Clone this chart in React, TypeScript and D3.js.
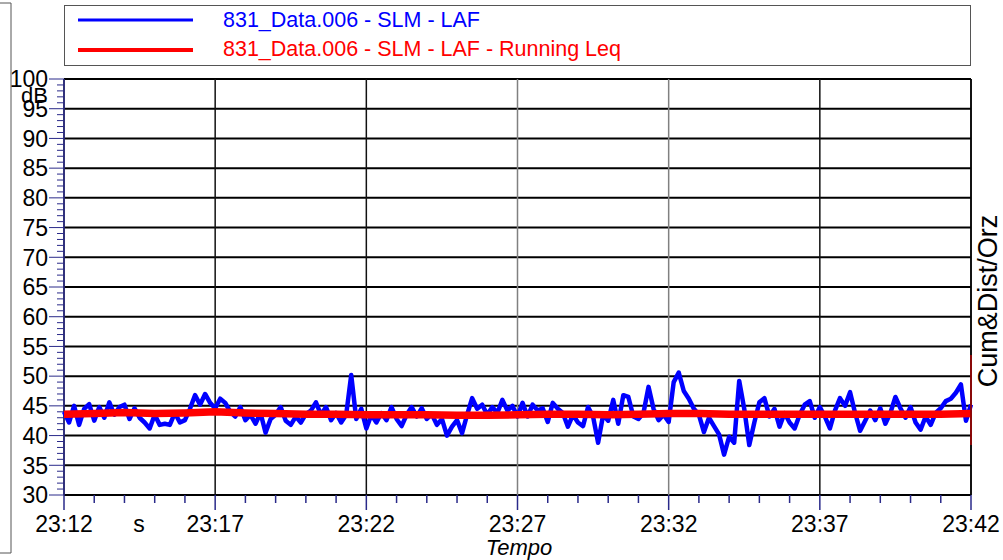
import React from 'react';
import * as d3 from 'd3';

// time axis: 23:12 .. 23:42, 30 minutes
const timeLabels = ['23:12', '23:17', '23:22', '23:27', '23:32', '23:37', '23:42'];
const yTickValues = [30, 35, 40, 45, 50, 55, 60, 65, 70, 75, 80, 85, 90, 95, 100];
const seriesNames = ['831_Data.006 - SLM - LAF', '831_Data.006 - SLM - LAF - Running Leq'];

// LAF, one value every 10 s
const lafStepSec = 10;
const lafValues = [
  44, 42.2, 45, 41.8, 44.5, 45.3, 42.5, 44.8, 43, 45.6,
  43.5, 44.8, 45.2, 42.8, 44.6, 43, 42.2, 41.2, 43.5, 41.8,
  42, 41.8, 43.8, 42.2, 42.6, 44.5, 46.8, 45.2, 47, 45.5,
  44.6, 46.2, 45.5, 44.0, 43.2, 44.8, 42.6, 43.5, 42, 43.8,
  40.5, 42.8, 43.5, 44.8, 42.5, 41.8, 43.2, 42.2, 43.6, 44.2,
  45.6, 43.5, 44.8, 42.6, 43.8, 42.2, 43.5, 50.2, 42.8, 44.5,
  41.2, 43.5, 42.2, 43.8, 42.6, 44.8, 42.8, 41.6, 43.5, 44.8,
  43.2, 44.6, 42.8, 43.6, 41.8, 42.8, 40.0, 41.5, 42.6, 40.4,
  43.5, 46.3, 44.5, 45.2, 43.5, 44.8, 43.8, 46, 44.2, 45,
  43.2, 45.5, 43.2, 45.2, 44.2, 44.6, 42.3, 45.5, 44.5, 43.8,
  41.5, 43.5, 42.2, 41.6, 44.8, 43.2, 38.8, 43.5, 42.5, 46,
  42, 46.8, 46.5, 43.2, 42.8, 43.8, 48.2, 44.5, 42.6, 43.5,
  42.3, 49, 50.6, 47.5, 46.2, 44.5, 43.5, 40.6, 43, 41.6,
  40.2, 36.8, 39.8, 38.8, 49.2, 44.5, 38.4, 42.2, 45.6, 46.3,
  43.2, 44.5, 41.5, 43.8, 42.2, 41.2, 43.5, 45.2, 45.8, 43,
  44.8, 43.2, 41.2, 44.2, 46.3, 45, 47.3, 43.8, 40.8, 42.5,
  44.2, 42.6, 44.6, 42, 43.8, 46.5, 44.6, 43, 44.8, 42.2,
  41, 43.2, 41.8, 43.8, 44.6, 45.8, 46.2, 47.2, 48.6, 42.5,
  45.2,
];

// Running Leq, one value per minute
const leqStepSec = 60;
const leqValues = [
  43.6, 43.7, 43.9, 43.7, 43.8, 44.0, 43.8, 43.7, 43.6, 43.6,
  43.5, 43.5, 43.5, 43.4, 43.4, 43.5, 43.6, 43.6, 43.5, 43.6,
  43.7, 43.7, 43.6, 43.6, 43.6, 43.6, 43.6, 43.6, 43.6, 43.6,
  43.7,
];

const font = 'Liberation Sans, Arial, sans-serif';

export default function App() {
  const width = 1003;
  const height = 560;
  const left = 64, right = 971, top = 79, bottom = 495;
  const totalSec = 1800;

  const x = d3.scaleLinear().domain([0, totalSec]).range([left, right]);
  const y = d3.scaleLinear().domain([30, 100]).range([bottom, top]);

  const lafLine = d3.line<number>()
    .x((d, i) => x(i * lafStepSec))
    .y(d => y(d));
  const leqLine = d3.line<number>()
    .x((d, i) => x(i * leqStepSec))
    .y(d => y(d));

  const majorX = timeLabels.map((t, i) => ({ t, s: i * 300 }));
  const minorX = d3.range(0, totalSec + 1, 60);
  const minorY = d3.range(30, 101, 1);
  const axisColor = '#2a2a8a';
  const gridGrey = ['#111', '#111', '#111', '#808080', '#808080', '#111', '#111'];

  return (
    <svg width={width} height={height} style={{ position: 'absolute', left: 0, top: 0, background: '#fff' }}
      fontFamily={font}>
      {/* frame of a neighbouring panel */}
      <path d="M0,3 H11 V553 H0" fill="none" stroke="#555" strokeWidth={1} />

      {/* legend */}
      <rect x={64.5} y={5.5} width={906} height={60} fill="#fff" stroke="#555" strokeWidth={1} />
      <line x1={78} x2={193} y1={20} y2={20} stroke="#0000ff" strokeWidth={3} />
      <text x={223} y={27} fontSize={21.5} fill="#0000ff">{seriesNames[0]}</text>
      <line x1={78} x2={193} y1={50} y2={50} stroke="#ff0000" strokeWidth={4} />
      <text x={223} y={56} fontSize={21.5} fill="#ff0000">{seriesNames[1]}</text>

      {/* horizontal grid */}
      {yTickValues.map(v => (
        <line key={'h' + v} x1={left} x2={right} y1={y(v)} y2={y(v)} stroke="#000" strokeWidth={2} />
      ))}
      {/* vertical grid */}
      {majorX.map((m, i) => (
        <line key={'v' + i} x1={x(m.s)} x2={x(m.s)} y1={top} y2={bottom} stroke={gridGrey[i]} strokeWidth={1.5} />
      ))}

      {/* y axis */}
      <line x1={left} x2={left} y1={top} y2={bottom} stroke={axisColor} strokeWidth={1.5} />
      {minorY.map(v => (
        <line key={'ym' + v} x1={v % 5 === 0 ? 49 : 57} x2={left} y1={y(v)} y2={y(v)} stroke={axisColor} strokeWidth={1} />
      ))}
      {yTickValues.map(v => (
        <text key={'yl' + v} x={48} y={y(v)} dy="0.36em" textAnchor="end" fontSize={23} fill="#000">{v}</text>
      ))}
      <text x={48} y={103} textAnchor="end" fontSize={22} fill="#000">dB</text>

      {/* x axis */}
      {minorX.map(s => (
        <line key={'xm' + s} x1={x(s)} x2={x(s)} y1={bottom} y2={s % 300 === 0 ? 510 : 503} stroke={axisColor} strokeWidth={1.5} />
      ))}
      {majorX.map(m => (
        <text key={'xl' + m.s} x={x(m.s)} y={532} textAnchor="middle" fontSize={23} fill="#000">{m.t}</text>
      ))}
      <text x={139} y={532} textAnchor="middle" fontSize={23} fill="#000">s</text>
      <text x={519} y={555} textAnchor="middle" fontSize={22} fontStyle="italic" fill="#000">Tempo</text>

      {/* right label */}
      <text transform={`translate(997,301) rotate(-90)`} textAnchor="middle" fontSize={27} fill="#000">Cum&amp;Dist/Orz</text>

      {/* data */}
      <path d={lafLine(lafValues) || ''} fill="none" stroke="#0000ff" strokeWidth={4.5} strokeLinejoin="round" />
      <path d={leqLine(leqValues) || ''} fill="none" stroke="#ff0000" strokeWidth={7.5} />

      {/* right border and cursor */}
      <line x1={right} x2={right} y1={top} y2={bottom} stroke="#000" strokeWidth={1.5} />
      <line x1={right} x2={right} y1={355} y2={445} stroke="#ff0000" strokeWidth={1} />
    </svg>
  );
}
